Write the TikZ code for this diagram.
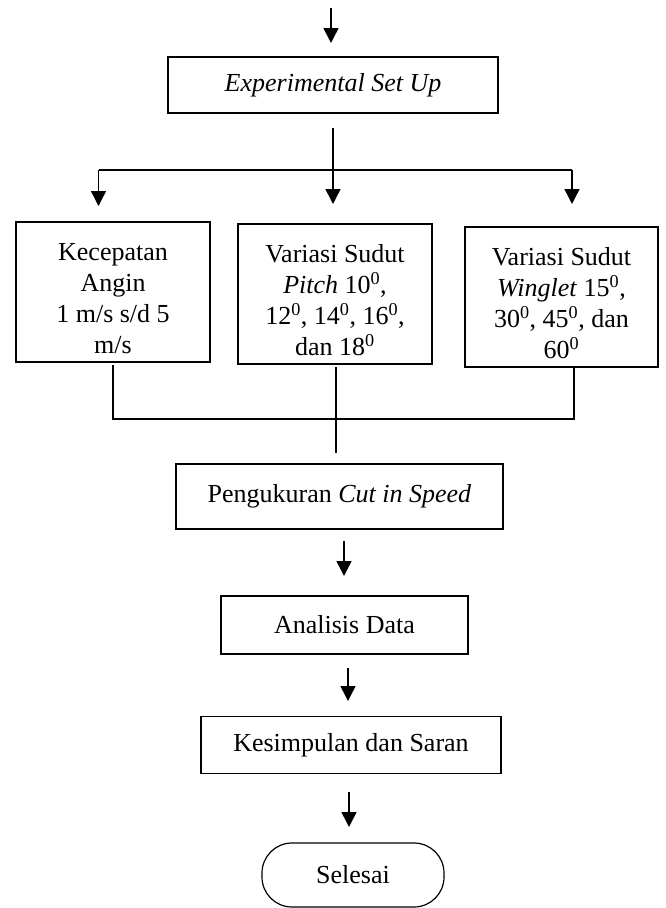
\documentclass[tikz,border=0pt]{standalone}
\usepackage{fontspec}
\setmainfont{Liberation Serif}
\usetikzlibrary{arrows.meta}
\newcommand{\toppad}{\rule{0pt}{31pt}}
\begin{document}
\begin{tikzpicture}[x=1pt,y=-1pt,
  every node/.style={font=\fontsize{26}{31}\selectfont},
  box/.style={draw,line width=1.2pt,rectangle,inner sep=0pt,align=center},
  term/.style={draw,line width=1.2pt,rectangle,rounded corners=30pt,inner sep=0pt,align=center},
  conn/.style={line width=1.5pt},
  arr/.style={line width=1.5pt,-{Triangle[width=15pt,length=15pt]}}]
\useasboundingbox (0,0) rectangle (665,908);
% nodes
\node[box,minimum width=330pt,minimum height=56pt] (exp) at (333,85) {\textit{Experimental Set Up}};
\node[box,minimum width=194pt,minimum height=140pt] (b1) at (113,292) {\toppad Kecepatan\\Angin\\1 m/s s/d 5\\m/s};
\node[box,minimum width=194pt,minimum height=140pt] (b2) at (335,294) {\toppad Variasi Sudut\\\textit{Pitch} 10\textsuperscript{0},\\12\textsuperscript{0}, 14\textsuperscript{0}, 16\textsuperscript{0},\\dan 18\textsuperscript{0}};
\node[box,minimum width=193pt,minimum height=140pt] (b3) at (561.5,297) {\toppad Variasi Sudut\\\textit{Winglet} 15\textsuperscript{0},\\30\textsuperscript{0}, 45\textsuperscript{0}, dan\\60\textsuperscript{0}};
\node[box,minimum width=327pt,minimum height=65pt] (peng) at (339.5,496.5) {Pengukuran \textit{Cut in Speed}};
\node[box,minimum width=247pt,minimum height=58pt] (anal) at (344.5,625) {Analisis Data};
\node[box,minimum width=300pt,minimum height=57pt] (kes) at (351,745) {Kesimpulan dan Saran};
\node[term,minimum width=182pt,minimum height=64pt] (sel) at (353,875) {Selesai};
% coordinates
\coordinate (t0) at (331,8);
\coordinate (t1) at (331,43);
\coordinate (e0) at (333,128);
\coordinate (e2) at (333,204);
\coordinate (hl) at (98.5,170);
\coordinate (hr) at (572,170);
\coordinate (l1) at (98.5,206);
\coordinate (r1) at (572,204);
\coordinate (c1a) at (113,365);
\coordinate (c1b) at (113,419);
\coordinate (c3a) at (574,368);
\coordinate (c3b) at (574,419);
\coordinate (c2a) at (336,367);
\coordinate (c2b) at (336,453);
\coordinate (p0) at (344,541);
\coordinate (p1) at (344,576);
\coordinate (a0) at (348,668);
\coordinate (a1) at (348,701);
\coordinate (k0) at (349,792);
\coordinate (k1) at (349,827);
% connectors
\draw[arr] (t0) -- (t1);
\draw[arr] (e0) -- (e2);
\draw[conn] (hl) -- (hr);
\draw[arr] (hl) -- (l1);
\draw[arr] (hr) -- (r1);
\draw[conn] (c1a) -- (c1b) -- (c3b) -- (c3a);
\draw[conn] (c2a) -- (c2b);
\draw[arr] (p0) -- (p1);
\draw[arr] (a0) -- (a1);
\draw[arr] (k0) -- (k1);
\end{tikzpicture}
\end{document}
